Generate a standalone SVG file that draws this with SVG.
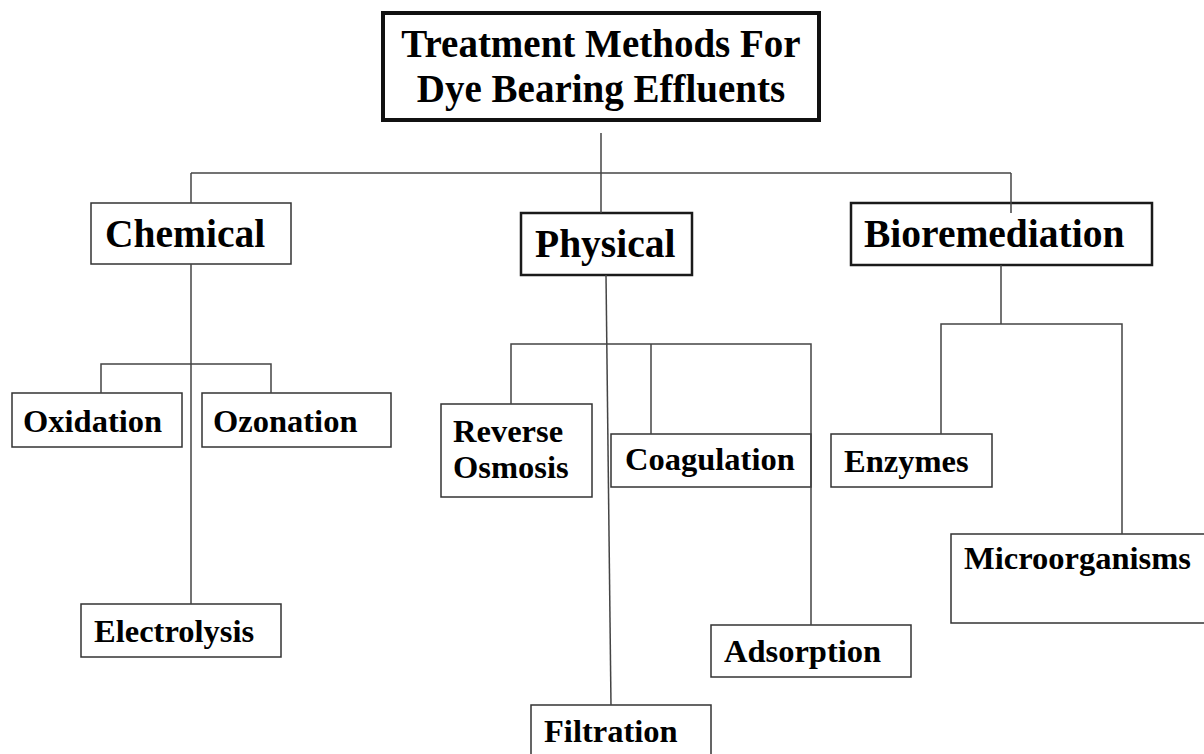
<svg xmlns="http://www.w3.org/2000/svg" width="1204" height="754" viewBox="0 0 1204 754">
<style>
text{font-family:"Liberation Serif","Times New Roman",serif;font-weight:bold;fill:#000}
.t{font-size:39px}
.m{font-size:39.5px}
.s{font-size:32.5px}
rect{fill:none}
.b4{stroke:#111;stroke-width:4}
.b2{stroke:#1a1a1a;stroke-width:2.5}
.b1{stroke:#333;stroke-width:1.5}
.c{stroke:#444;stroke-width:1.5;fill:none}
</style>
<rect x="0" y="0" width="1204" height="754" fill="#fff" style="fill:#fff"/>
<g id="title">
<rect class="b4" x="383" y="13" width="436" height="107"/>
<text class="t" x="601" y="57" text-anchor="middle">Treatment Methods For</text>
<text class="t" x="601" y="102" text-anchor="middle">Dye Bearing Effluents</text>
</g>
<g id="chemical">
<rect class="b1" x="91" y="203" width="200" height="61"/>
<text class="m" x="105" y="247">Chemical</text>
</g>
<g id="physical">
<rect class="b2" x="521" y="213" width="171" height="62"/>
<text class="m" x="535" y="257">Physical</text>
</g>
<g id="bioremediation">
<rect class="b2" x="851" y="203" width="301" height="62"/>
<text class="m" x="864" y="247">Bioremediation</text>
</g>
<g id="oxidation">
<rect class="b1" x="12" y="393" width="170" height="54"/>
<text class="s" x="23" y="432">Oxidation</text>
</g>
<g id="ozonation">
<rect class="b1" x="202" y="393" width="189" height="54"/>
<text class="s" x="213" y="432">Ozonation</text>
</g>
<g id="electrolysis">
<rect class="b1" x="81" y="604" width="200" height="53"/>
<text class="s" x="94" y="642">Electrolysis</text>
</g>
<g id="reverse-osmosis">
<rect class="b1" x="441" y="404" width="151" height="93"/>
<text class="s" x="453" y="442">Reverse</text>
<text class="s" x="453" y="478">Osmosis</text>
</g>
<g id="coagulation">
<rect class="b1" x="611" y="434" width="200" height="53"/>
<text class="s" x="625" y="470">Coagulation</text>
</g>
<g id="adsorption">
<rect class="b1" x="711" y="625" width="200" height="52"/>
<text class="s" x="724" y="662">Adsorption</text>
</g>
<g id="filtration">
<rect class="b1" x="531" y="705" width="180" height="60"/>
<text class="s" x="544" y="742">Filtration</text>
</g>
<g id="enzymes">
<rect class="b1" x="831" y="434" width="161" height="53"/>
<text class="s" x="844" y="472">Enzymes</text>
</g>
<g id="microorganisms">
<rect class="b1" x="951" y="534" width="260" height="89"/>
<text class="s" x="964" y="569">Microorganisms</text>
</g>
<g id="connectors" class="c">
<path class="c" d="M601 133V213"/>
<path class="c" d="M191 173H1011"/>
<path class="c" d="M191 173V203"/>
<path class="c" d="M1011 173V213"/>
<path class="c" d="M191 264V604"/>
<path class="c" d="M101 393V364H271V393"/>
<path class="c" d="M606 275L611 705"/>
<path class="c" d="M511 404V344H811V625"/>
<path class="c" d="M651 344V434"/>
<path class="c" d="M1001 265V324"/>
<path class="c" d="M941 434V324H1122V534"/>
</g>
</svg>
